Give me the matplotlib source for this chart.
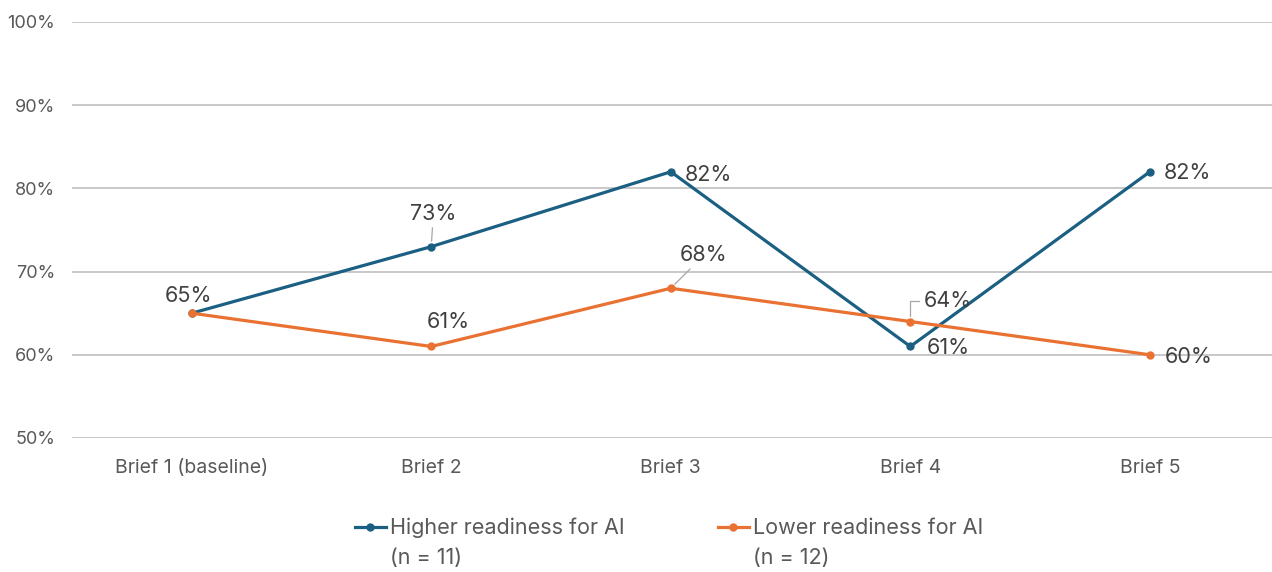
import matplotlib
matplotlib.use("Agg")
import matplotlib.pyplot as plt
from matplotlib.ticker import FuncFormatter

plt.rcParams['font.family'] = ['Inter', 'DejaVu Sans']

# data
briefs = ['Brief 1 (baseline)', 'Brief 2', 'Brief 3', 'Brief 4', 'Brief 5']
higher = [65, 73, 82, 61, 82]
lower = [65, 61, 68, 64, 60]
higherName = 'Higher readiness for AI'
higherN = '(n = 11)'
lowerName = 'Lower readiness for AI'
lowerN = '(n = 12)'

blue = '#1B6082'
orange = '#E97132'
textCol = '#595959'
gridCol = '#BFBFBF'

# label offsets in pixels (dx, dy, leader style), None = label hidden
higherOffs = [(-3, 17, None), (2, 33, 'line'), (38, -3, None), (38, -2, None), (38, -1, None)]
lowerOffs = [None, (17, 24, None), (33, 33, 'line'), (38, 21, 'elbow'), (39, -2, None)]

fig = plt.figure(figsize=(12.72, 5.72), dpi=100)
ax = fig.add_axes([72/1272, 1-438/572, 1200/1272, 416/572])

x = list(range(len(briefs)))
ax.plot(x, higher, color=blue, lw=2.3, marker='o', ms=5, label=higherName, zorder=3)
ax.plot(x, lower, color=orange, lw=2.3, marker='o', ms=5, label=lowerName, zorder=4)

def addLabels(vals, offs):
    for i, v in enumerate(vals):
        if offs[i] is None:
            continue
        dx, dy, lead = offs[i]
        kw = {}
        if lead == 'line':
            kw['arrowprops'] = dict(arrowstyle='-', color='#A6A6A6', lw=0.9, shrinkA=1, shrinkB=4)
        elif lead == 'elbow':
            kw['arrowprops'] = dict(arrowstyle='-', color='#A6A6A6', lw=0.9, shrinkA=2, shrinkB=4,
                                    relpos=(0, 0.5), connectionstyle='angle,angleA=0,angleB=90,rad=0')
        ax.annotate('%d%%' % v, (i, v), xytext=(dx, dy), textcoords='offset pixels',
                    ha='center', va='center', fontsize=15.5, color='#404040', zorder=5, **kw)

addLabels(higher, higherOffs)
addLabels(lower, lowerOffs)

ax.set_xlim(-0.5, 4.51)
ax.set_ylim(50, 100)
ax.set_yticks(range(50, 101, 10))
ax.yaxis.set_major_formatter(FuncFormatter(lambda v, p: '%d%%' % v))
ax.set_xticks(x)
ax.set_xticklabels(briefs)
ax.grid(axis='y', color=gridCol, lw=1.2)
ax.set_axisbelow(True)
for s in ax.spines.values():
    s.set_visible(False)
ax.tick_params(length=0, colors=textCol)
ax.tick_params(axis='x', pad=15, labelsize=14)
ax.tick_params(axis='y', pad=12, labelsize=13)

leg = fig.legend(loc='center', bbox_to_anchor=(0.526, 1-528/572), ncol=2, frameon=False,
                 fontsize=15.5, labelcolor=textCol, handlelength=1.45, handletextpad=0.2,
                 columnspacing=4.3)
fig.canvas.draw()
rend = fig.canvas.get_renderer()
for t, n in zip(leg.get_texts(), [higherN, lowerN]):
    bb = t.get_window_extent(rend)
    fig.text(bb.x0 / 1272, (bb.y0 - 20) / 572, n, fontsize=15.5, color=textCol,
             ha='left', va='center')

fig.savefig('out.png', dpi=100)
